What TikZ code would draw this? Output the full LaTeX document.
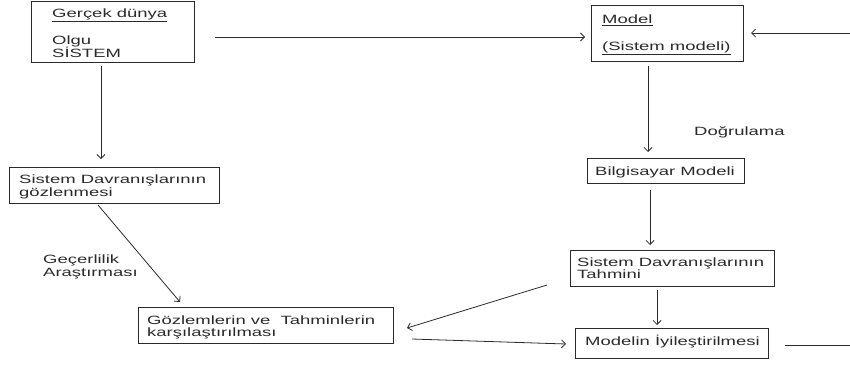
\documentclass[tikz,border=0pt]{standalone}
\usepackage{fontspec}
\setmainfont{Liberation Sans}[FakeStretch=1.54]
\usetikzlibrary{arrows.meta}
\definecolor{ink}{HTML}{2A2A2A}
\tikzset{
  box/.style={draw=ink, line width=0.9pt, rectangle, inner sep=0pt, outer sep=0pt},
  lbl/.style={anchor=west, inner sep=0pt, text=ink, text height=8.6pt, text depth=0pt, font=\fontsize{12pt}{14pt}\selectfont},
  arr/.style={draw=ink, line width=0.8pt, -{Straight Barb[length=4pt,width=8pt]}},
  ln/.style={draw=ink, line width=0.8pt}
}
\begin{document}
\begin{tikzpicture}[x=1pt,y=-1pt]
\useasboundingbox (0,0) rectangle (850,365);
\clip (0,0) rectangle (850,365);
% boxes
\node[box, minimum width=163pt, minimum height=61pt] (g) at (112.5,31.5) {};
\node[box, minimum width=152pt, minimum height=56pt] (m) at (667,33) {};
\node[box, minimum width=210pt, minimum height=36pt] (s1) at (114,185) {};
\node[box, minimum width=157pt, minimum height=25pt] (b) at (665.5,170.5) {};
\node[box, minimum width=204pt, minimum height=36pt] (t) at (672,268) {};
\node[box, minimum width=255pt, minimum height=36pt] (c) at (265.5,325) {};
\node[box, minimum width=193pt, minimum height=30pt] (mi) at (671.5,343) {};
% texts
\node[lbl] (tg1) at (52,13) {\underline{Gerçek dünya}};
\node[lbl] (tg2) at (52,40) {Olgu};
\node[lbl] (tg3) at (52,53) {SİSTEM};
\node[lbl] (tm1) at (602,19) {\underline{Model}};
\node[lbl] (tm2) at (602,46) {\underline{(Sistem modeli)}};
\node[lbl] (td) at (694,131) {Doğrulama};
\node[lbl] (tb) at (595,171) {Bilgisayar Modeli};
\node[lbl] (ts1) at (19,179) {Sistem Davranışlarının};
\node[lbl] (ts2) at (19,192) {gözlenmesi};
\node[lbl] (tv1) at (43,259) {Geçerlilik};
\node[lbl] (tv2) at (43,272.5) {Araştırması};
\node[lbl] (tt1) at (577,262) {Sistem Davranışlarının};
\node[lbl] (tt2) at (577,274) {Tahmini};
\node[lbl] (tc1) at (147,320) {Gözlemlerin ve\ \ Tahminlerin};
\node[lbl] (tc2) at (147,332) {karşılaştırılması};
\node[lbl] (tmi) at (585,341) {Modelin İyileştirilmesi};
% feedback corner coordinates (outside the visible area)
\coordinate (fb1) at (870,33);
\coordinate (fb2) at (870,345);
% connectors
\draw[arr] ([xshift=21pt,yshift=-5.5pt]g.east) -- ([xshift=-6pt,yshift=-4pt]m.west);
\draw[arr] ([xshift=17pt,yshift=-2pt]mi.east) -- (fb2) -- (fb1) -- ([xshift=8pt]m.east);
\draw[arr] ([xshift=-11.5pt,yshift=-4pt]g.south) -- ([xshift=-13pt,yshift=8pt]s1.north);
\draw[arr] ([xshift=-16pt,yshift=-2pt]s1.south) -- ([xshift=-85.5pt,yshift=5pt]c.north);
\draw[arr] ([xshift=-19pt,yshift=-5pt]m.south) -- ([xshift=-17.5pt,yshift=6pt]b.north);
\draw[arr] ([xshift=-15.5pt,yshift=-7pt]b.south) -- ([xshift=-22pt,yshift=5pt]t.north);
\draw[arr] ([xshift=-15pt,yshift=-4pt]t.south) -- ([xshift=-14.5pt,yshift=3pt]mi.north);
\draw[arr] ([xshift=-23pt,yshift=-17pt]t.west) -- ([xshift=14pt,yshift=-3pt]c.east);
\draw[arr] ([xshift=19pt,yshift=-14pt]c.east) -- ([xshift=-9pt,yshift=-1pt]mi.west);
\end{tikzpicture}
\end{document}
